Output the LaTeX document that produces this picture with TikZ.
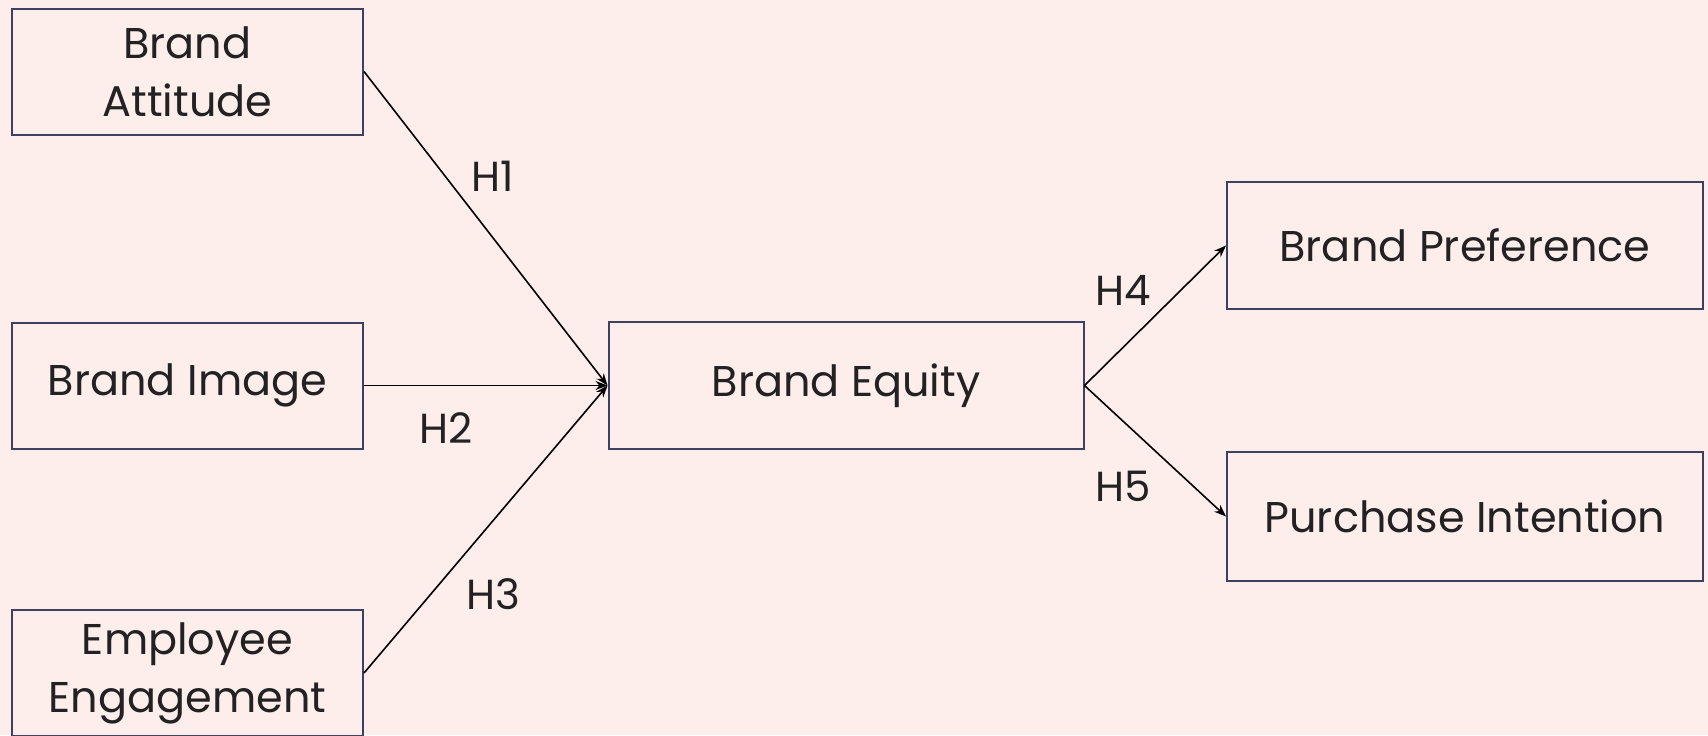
\documentclass[tikz,border=0pt]{standalone}
\usepackage{fontspec}
\setmainfont{Poppins}
\usetikzlibrary{arrows.meta}
\definecolor{bgpink}{RGB}{253,237,235}
\definecolor{boxline}{RGB}{62,64,96}
\definecolor{txt}{RGB}{34,34,34}
\begin{document}
\begin{tikzpicture}[x=0.5pt,y=-0.5pt,
  box/.style={draw=boxline, line width=1pt, text=txt, align=center, inner sep=0pt,
    font=\fontsize{21.5}{29}\selectfont},
  left box/.style={box, minimum width=175.5pt, minimum height=63pt},
  link/.style={-{Stealth[length=6pt,width=4.5pt]}, line width=0.8pt, black},
  hlabel/.style={text=txt, inner sep=0pt, font=\fontsize{21}{24}\selectfont}]
  % canvas
  \fill[bgpink] (0,0) rectangle (1708,735);
  \useasboundingbox (0,0) rectangle (1708,735);

  % constructs
  \node[left box] (att) at (187.5,71.5) {Brand\\Attitude};
  \node[left box] (img) at (187.5,385.5) {Brand Image};
  \node[left box] (emp) at (187.5,673) {Employee\\Engagement};
  \node[box, minimum width=237.5pt, minimum height=63.5pt] (eq) at (846,385.5) {Brand Equity};
  \node[box, minimum width=238pt, minimum height=63.5pt] (pref) at (1465,245.5) {Brand Preference};
  \node[box, minimum width=238pt, minimum height=64.5pt] (pur) at (1465,516.5) {Purchase Intention};

  % hypotheses
  \draw[link] (att.east) -- (eq.west);
  \draw[link] (img.east) -- (eq.west);
  \draw[link] (emp.east) -- (eq.west);
  \draw[link] (eq.east) -- (pref.west);
  \draw[link] (eq.east) -- (pur.west);

  \node[hlabel] (h1) at (493,176) {H1};
  \node[hlabel] (h2) at (446,428) {H2};
  \node[hlabel] (h3) at (493,594) {H3};
  \node[hlabel] (h4) at (1123,290) {H4};
  \node[hlabel] (h5) at (1123,486) {H5};
\end{tikzpicture}
\end{document}
